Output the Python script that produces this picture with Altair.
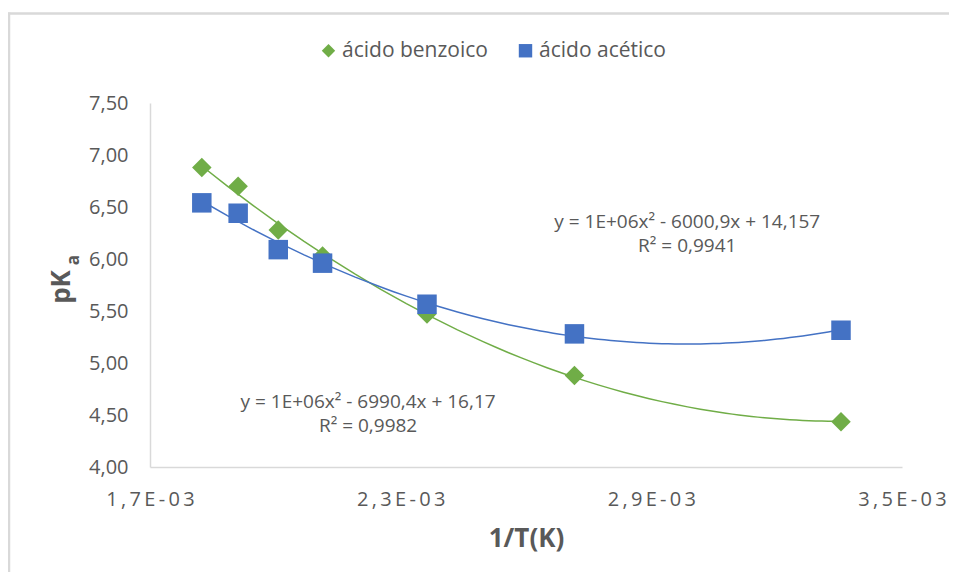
import altair as alt
import pandas as pd

# ---- data ----
series = ["ácido benzoico", "ácido acético"]
colors = ["#70AD47", "#4472C4"]
shapes = ["diamond", "square"]

inv_T = [0.001824, 0.001911, 0.002007, 0.002113, 0.002363, 0.002716, 0.003354]
pka_benzoico = [6.88, 6.70, 6.28, 6.03, 5.47, 4.88, 4.435]
pka_acetico = [6.54, 6.44, 6.09, 5.96, 5.565, 5.28, 5.315]

x_ticks = [0.0017, 0.0023, 0.0029, 0.0035]
y_ticks = [4.0, 4.5, 5.0, 5.5, 6.0, 6.5, 7.0, 7.5]

eq_text = [
    "y = 1E+06x² - 6000,9x + 14,157\nR² = 0,9941",
    "y = 1E+06x² - 6990,4x + 16,17\nR² = 0,9982",
]
eq_x = [0.002986, 0.002222]
eq_y = [6.36, 4.625]

FONT = "Open Sans"
GREY = "#595959"
LINE = "#d9d9d9"

rows = []
for s, vals in zip(series, [pka_benzoico, pka_acetico]):
    for xv, yv in zip(inv_T, vals):
        rows.append({"serie": s, "x": xv, "pka": yv})
df = pd.DataFrame(rows)

df_eq = pd.DataFrame({"text": eq_text, "x": eq_x, "y": eq_y})

xscale = alt.Scale(domain=[0.0017, 0.0035], nice=False, zero=False)
yscale = alt.Scale(domain=[4.0, 7.5], nice=False, zero=False)

x_label_expr = "join(split(replace(format(datum.value*1000, '.1f'), '.', ',') + 'E-03', ''), '\u2009')"
y_label_expr = "replace(format(datum.value, '.2f'), '.', ',')"

base = alt.Chart(df)

lines = []
for s, c in zip(series, colors):
    lines.append(
        base.transform_filter(alt.datum.serie == s)
        .transform_regression("x", "pka", method="poly", order=2)
        .mark_line(color=c, strokeWidth=1.5)
        .encode(
            x=alt.X("x:Q", scale=xscale),
            y=alt.Y("pka:Q", scale=yscale),
        )
    )

points = base.mark_point(filled=True, opacity=1, size=380).encode(
    x=alt.X(
        "x:Q",
        scale=xscale,
        axis=alt.Axis(
            values=x_ticks,
            labelExpr=x_label_expr,
            grid=False,
            ticks=False,
            domainColor=LINE,
            domainWidth=1.5,
            labelFontSize=20,
            labelColor=GREY,
            labelFont=FONT,
            labelPadding=22,
            labelFlush=False,
            labelOverlap=False,
            title="1/T(K)",
            titleFontSize=26,
            titleFont=FONT,
            titleFontWeight="bold",
            titleColor=GREY,
            titlePadding=16,
        ),
    ),
    y=alt.Y(
        "pka:Q",
        scale=yscale,
        axis=alt.Axis(
            values=y_ticks,
            labelExpr=y_label_expr,
            grid=False,
            ticks=False,
            domainColor=LINE,
            domainWidth=1.5,
            labelFontSize=20,
            labelColor=GREY,
            labelFont=FONT,
            labelPadding=22,
            labelOverlap=False,
            title=None,
        ),
    ),
    color=alt.Color(
        "serie:N",
        scale=alt.Scale(domain=series, range=colors),
        legend=alt.Legend(
            title=None,
            orient="none",
            direction="horizontal",
            legendX=168,
            legendY=-63,
            labelFontSize=21,
            labelFont=FONT,
            labelColor=GREY,
            symbolSize=180,
            labelOffset=3,
            columnPadding=27,
        ),
    ),
    shape=alt.Shape("serie:N", scale=alt.Scale(domain=series, range=shapes), legend=None),
)

eq = alt.Chart(df_eq).mark_text(
    font=FONT, fontSize=19, color=GREY, align="center", baseline="middle", lineBreak="\n", lineHeight=24
).encode(
    x=alt.X("x:Q", scale=xscale),
    y=alt.Y("y:Q", scale=yscale),
    text="text:N",
)

ytitle = alt.Chart(alt.Data(values=[{"t": "pK"}])).mark_text(
    font=FONT, fontSize=26, fontWeight="bold", color=GREY, angle=270, align="center", baseline="middle"
).encode(x=alt.value(-88), y=alt.value(184), text="t:N")

ysub = alt.Chart(alt.Data(values=[{"t": "a"}])).mark_text(
    font=FONT, fontSize=17, fontWeight="bold", color=GREY, angle=270, align="center", baseline="middle"
).encode(x=alt.value(-76), y=alt.value(157), text="t:N")

border_top = alt.Chart(alt.Data(values=[{"b": 1}])).mark_rule(color=LINE, strokeWidth=2.5).encode(
    x=alt.value(-142), x2=alt.value(799), y=alt.value(-89.5)
)
border_left = alt.Chart(alt.Data(values=[{"b": 1}])).mark_rule(color=LINE, strokeWidth=2.5).encode(
    x=alt.value(-141), y=alt.value(-90.5), y2=alt.value(470)
)

chart = alt.layer(border_top, border_left, *lines, points, eq, ytitle, ysub).properties(
    width=752,
    height=364,
    autosize=alt.AutoSizeParams(type="none"),
    padding={"left": 142, "top": 95, "right": 47, "bottom": 105},
    background="white",
).configure_view(stroke=None).configure_legend(padding=0)

chart.save("out.html", embed_options={"renderer": "svg", "actions": False})
